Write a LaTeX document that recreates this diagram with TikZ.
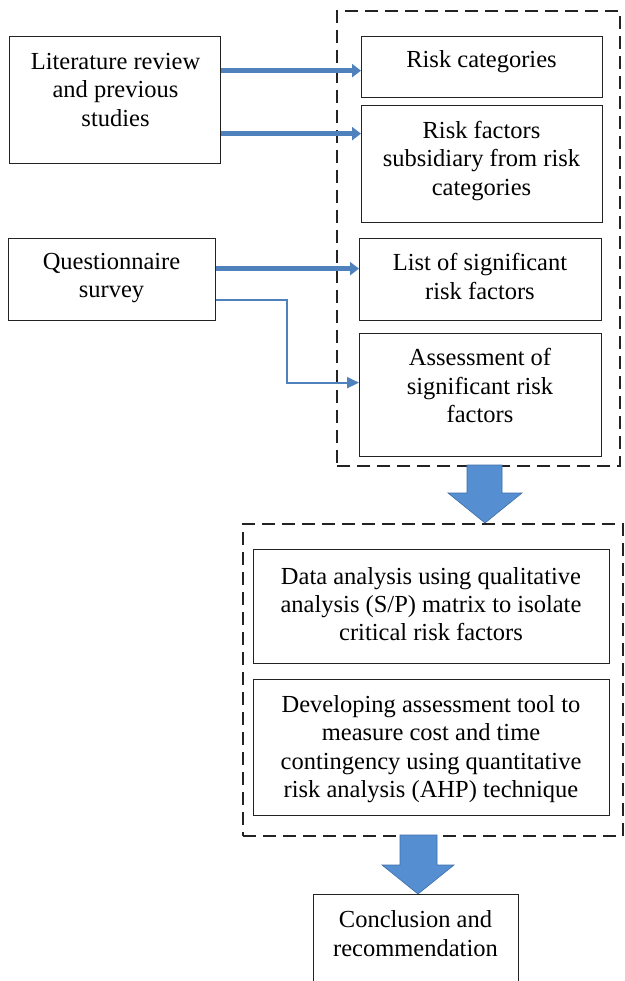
\documentclass[tikz,border=0pt]{standalone}
\usepackage{fontspec}
\setmainfont{Liberation Serif}
\usetikzlibrary{arrows.meta}
\definecolor{arrblue}{RGB}{79,129,189}
\definecolor{bigfill}{RGB}{86,142,210}
\definecolor{bigdraw}{RGB}{62,110,168}
\definecolor{lineblk}{RGB}{35,35,35}
\tikzset{
  box/.style={draw=lineblk, line width=1.3pt, anchor=north west, inner sep=0pt},
  txt/.style={align=center, font=\fontsize{24.5}{28.3}\selectfont, inner sep=0pt, text=black},
  dbox/.style={draw=lineblk, line width=2pt, dash pattern=on 13pt off 7pt, anchor=north west, inner sep=0pt},
  thickarr/.style={draw=arrblue, line width=5pt, -{Triangle[length=9pt,width=13pt]}},
  thinarr/.style={draw=arrblue, line width=1.8pt, -{Triangle[length=12pt,width=11pt]}},
  bigarrow/.style={fill=bigfill, draw=bigdraw, line width=0.6pt},
}
\begin{document}
\begin{tikzpicture}[x=1pt,y=-1pt]
\clip (0,0) rectangle (624,981);
\fill[white] (0,0) rectangle (624,981);

% dashed groups
\node[dbox, minimum width=283pt, minimum height=455pt] (g1) at (336,10) {};
\node[dbox, minimum width=380pt, minimum height=312pt] (g2) at (242,523) {};

% boxes
\node[box, minimum width=211pt, minimum height=127pt] (lit) at (9,36) {};
\node[box, minimum width=207pt, minimum height=82pt] (q) at (8,238) {};
\node[box, minimum width=241pt, minimum height=61pt] (rc) at (361,36) {};
\node[box, minimum width=241pt, minimum height=117pt] (rf) at (361,105) {};
\node[box, minimum width=242pt, minimum height=82pt] (ls) at (359,238) {};
\node[box, minimum width=242pt, minimum height=123pt] (as) at (359,333) {};
\node[box, minimum width=356pt, minimum height=114pt] (da) at (253,549) {};
\node[box, minimum width=356pt, minimum height=136pt] (dv) at (253,679) {};
\node[box, minimum width=205pt, minimum height=110pt] (cc) at (313,894) {};

% texts
\node[txt] (littxt) at (115.5,90) {Literature review\\and previous\\studies};
\node[txt] (qtxt) at (111.5,278) {Questionnaire\\survey};
\node[txt] (rctxt) at (481.5,62) {Risk categories};
\node[txt] (rftxt) at (481.5,161) {Risk factors\\subsidiary from risk\\categories};
\node[txt] (lstxt) at (480,276.5) {List of significant\\risk factors};
\node[txt] (astxt) at (480,385.5) {Assessment of\\significant risk\\factors};
\node[txt] (datxt) at (431,604) {Data analysis using qualitative\\analysis (S/P) matrix to isolate\\critical risk factors};
\node[txt] (dvtxt) at (431,749) {Developing assessment tool to\\measure cost and time\\contingency using quantitative\\risk analysis (AHP) technique};
\node[txt] (cctxt) at (415.5,933.5) {Conclusion and\\recommendation};

% thick arrows
\coordinate (e1) at ([yshift=-3.5pt]rc.west);
\coordinate (e2) at ([yshift=30.5pt]rf.west);
\coordinate (e3) at ([yshift=11pt]ls.west);
\draw[thickarr] (lit.east |- e1) -- (e1);
\draw[thickarr] (lit.east |- e2) -- (e2);
\draw[thickarr] (q.east |- e3) -- (e3);

% thin bent arrow
\coordinate (qs) at ([yshift=-20pt]q.east);
\coordinate (ae) at ([yshift=12.5pt]as.west);
\coordinate (bx) at (287,0);
\draw[thinarr] (qs) -- (qs -| bx) |- (ae);

% big block arrows
\coordinate (t1) at (485,523);
\draw[bigarrow] (t1) -- ++(-37,-30) -- ++(19,0) -- ++(0,-28) -- ++(35,0) -- ++(0,28) -- ++(20,0) -- cycle;
\coordinate (t2) at (418,894);
\draw[bigarrow] (t2) -- ++(-36,-29) -- ++(18,0) -- ++(0,-30) -- ++(37,0) -- ++(0,30) -- ++(17,0) -- cycle;
\end{tikzpicture}
\end{document}
